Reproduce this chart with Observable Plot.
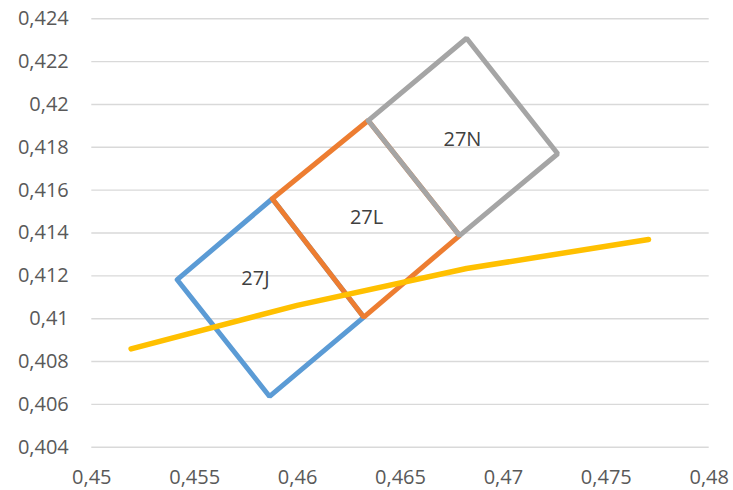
<!DOCTYPE html>
<html>
<head>
<meta charset="utf-8">
<script src="https://cdn.jsdelivr.net/npm/d3@7"></script>
<script src="https://cdn.jsdelivr.net/npm/@observablehq/plot@0.6"></script>
<style>
  html, body { margin: 0; padding: 0; background: #fff; }
</style>
</head>
<body>
<div id="chart"></div>
<script>
// Polygons (closed outlines)
const j27X = [0.45415, 0.45877, 0.46322, 0.45864, 0.45415];
const j27Y = [0.41182, 0.41560, 0.41007, 0.40637, 0.41182];
const l27X = [0.45877, 0.46343, 0.46787, 0.46322, 0.45877];
const l27Y = [0.41560, 0.41925, 0.41388, 0.41007, 0.41560];
const n27X = [0.46343, 0.46821, 0.47264, 0.46787, 0.46343];
const n27Y = [0.41925, 0.42309, 0.41770, 0.41388, 0.41925];
// Yellow curve
const curveX = [0.45191, 0.45998, 0.46821, 0.47705];
const curveY = [0.40859, 0.41062, 0.41234, 0.41370];
// Labels
const labelText = ["27J", "27L", "27N"];
const labelX = [0.45795, 0.46335, 0.46801];
const labelY = [0.41188, 0.41472, 0.41837];
// Ticks
const xTicks = [0.45, 0.455, 0.46, 0.465, 0.47, 0.475, 0.48];
const yTicks = [0.404, 0.406, 0.408, 0.41, 0.412, 0.414, 0.416, 0.418, 0.42, 0.422, 0.424];

const toPts = (xs, ys) => xs.map((x, i) => ({x, y: ys[i]}));
const fmt = d => String(d).replace(".", ",");

const polyStyle = {x: "x", y: "y", strokeWidth: 5, strokeLinejoin: "miter", strokeLinecap: "round"};

const chart = Plot.plot({
  width: 733,
  height: 490,
  marginLeft: 91.3,
  marginRight: 24.3,
  marginTop: 18.3,
  marginBottom: 43.3,
  style: {fontFamily: "'Open Sans', sans-serif", fontSize: "20px", color: "#595959", background: "#fff"},
  x: {domain: [0.45, 0.48]},
  y: {domain: [0.404, 0.424]},
  marks: [
    Plot.gridY(yTicks, {stroke: "#d9d9d9", strokeOpacity: 1, strokeWidth: 1.4}),
    Plot.axisX(xTicks, {tickSize: 0, tickPadding: 23, tickFormat: fmt, label: null}),
    Plot.axisY(yTicks, {tickSize: 0, tickPadding: 23, tickFormat: fmt, label: null}),
    Plot.line(toPts(j27X, j27Y), {...polyStyle, stroke: "#5b9bd5"}),
    Plot.line(toPts(l27X, l27Y), {...polyStyle, stroke: "#ed7d31"}),
    Plot.line(toPts(n27X, n27Y), {...polyStyle, stroke: "#a5a5a5"}),
    Plot.line(toPts(curveX, curveY), {x: "x", y: "y", stroke: "#ffc000", strokeWidth: 5.5, strokeLinecap: "round", strokeLinejoin: "round"}),
    Plot.text(labelText.map((t, i) => ({t, x: labelX[i], y: labelY[i]})), {x: "x", y: "y", text: "t", fontSize: 20, fill: "#404040"})
  ]
});
document.getElementById("chart").appendChild(chart);
</script>
</body>
</html>
